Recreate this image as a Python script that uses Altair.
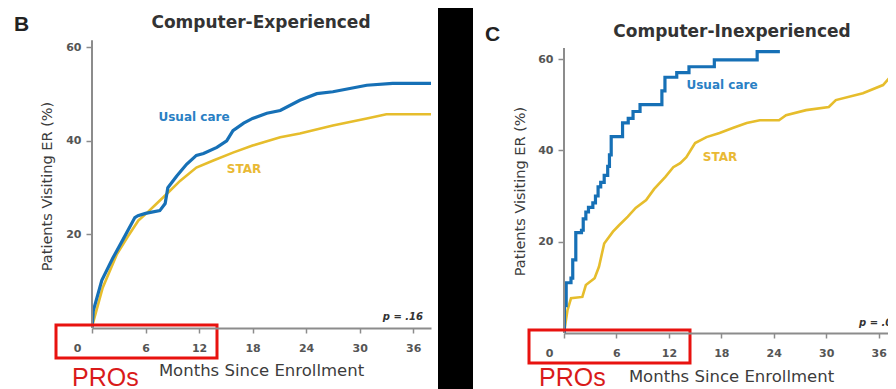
import altair as alt
import pandas as pd

# ---------------- data ----------------
MONTH_TICKS = [0, 6, 12, 18, 24, 30, 36]
PCT_TICKS = [20, 40, 60]

# Panel B: Computer-Experienced
b_usual_month = [0, 0.15, 1.1, 2.35, 3.5, 4.8, 5.15, 6.0, 7.6, 8.2, 8.5, 9.5, 10.6, 11.7, 12.5,
                 14.0, 15.1, 15.8, 17.0, 18.0, 19.6, 21.1, 23.3, 25.2, 27.0, 28.9, 30.8, 33.7, 38.0]
b_usual_pct = [0, 3.7, 10.2, 15.0, 19.0, 23.6, 24.0, 24.5, 25.1, 26.6, 30.0, 32.5, 35.0, 36.9, 37.3,
               38.6, 40.0, 42.2, 43.8, 44.8, 45.9, 46.5, 48.7, 50.1, 50.5, 51.2, 51.9, 52.3, 52.3]
b_star_month = [0, 0.1, 1.2, 2.8, 4.0, 5.2, 6.1, 7.2, 8.4, 9.9, 11.7, 13.6, 15.8, 18.0, 21.1,
                23.3, 27.0, 30.8, 33.0, 38.0]
b_star_pct = [0, 1.0, 8.6, 15.8, 19.5, 23.0, 24.5, 26.5, 28.7, 31.5, 34.3, 35.8, 37.5, 39.0, 40.8,
              41.6, 43.3, 44.8, 45.7, 45.7]

# Panel C: Computer-Inexperienced
c_usual_month = [0, 0.05, 0.25, 0.8, 1.0, 1.35, 2.0, 2.2, 2.5, 2.8, 3.3, 3.6, 3.9, 4.2, 4.6, 5.0,
                 5.2, 5.4, 6.7, 7.35, 7.9, 8.7, 11.2, 11.55, 12.9, 14.3, 17.2, 22.1, 24.7]
c_usual_pct = [0, 6.0, 11.0, 12.0, 16.0, 22.0, 22.5, 25.0, 26.5, 27.5, 28.5, 30.0, 32.0, 33.0, 34.5, 36.5,
               39.0, 43.0, 46.0, 47.0, 48.5, 50.0, 53.0, 56.0, 57.0, 58.3, 59.8, 61.6, 61.6]
c_star_month = [0, 0.4, 0.8, 2.1, 2.5, 3.5, 4.0, 4.6, 5.6, 6.3, 7.3, 8.2, 9.4, 10.3, 11.6, 12.5, 13.3,
                14.0, 15.0, 16.3, 17.8, 19.3, 20.9, 22.4, 24.6, 25.4, 27.7, 30.3, 31.1, 34.2, 36.5, 37.2, 38.0]
c_star_pct = [0, 5.0, 7.6, 7.9, 10.5, 12.0, 14.5, 19.6, 22.2, 23.6, 25.5, 27.4, 29.1, 31.5, 34.2, 36.3, 37.2,
              38.5, 41.6, 42.9, 43.8, 44.9, 46.0, 46.6, 46.6, 47.7, 48.8, 49.5, 51.0, 52.5, 54.3, 55.8, 56.5]

# ---------------- styles ----------------
BLUE = "#1670b6"
GOLD = "#e6bd2c"
BLUE_TXT = "#2a80c4"
GOLD_TXT = "#e9b935"
RED = "#e8120f"
AXIS = "#8c8c8c"
INK = "#3c3c3c"
SANS = "DejaVu Sans"
ARIAL = "Liberation Sans"


def one(text):
    return pd.DataFrame({"t": [text]})


def text_layer(text, x, y, size, color, weight="normal", align="left", style="normal",
               font=SANS, baseline="alphabetic", clip=False):
    kw = dict(font=font, fontSize=size, fontWeight=weight, fontStyle=style, color=color,
              align=align, baseline=baseline)
    if clip:
        kw.update(clip=True)
    return alt.Chart(one(text)).mark_text(**kw).encode(
        x=alt.value(x), y=alt.value(y), text="t:N")


def panel(p):
    w, h = p["width"], p["height"]
    xaxis = alt.Axis(
        values=MONTH_TICKS, title="Months Since Enrollment", grid=False,
        domainColor=AXIS, domainWidth=2, tickColor=AXIS, tickWidth=1.5, tickSize=5,
        labelFont=SANS, labelFontSize=11, labelFontWeight="bold", labelColor="#555555",
        labelPadding=9, labelFlush=False, labelOverlap=False,
        labelOffset={"condition": {"test": "datum.value === 0", "value": -15}, "value": 0},
        titleFont=SANS, titleFontSize=16.5, titleFontWeight="normal", titleColor=INK,
        titleX=p["xt_x"], titleY=p["xt_y"], titleBaseline="alphabetic", titleAlign="center",
        zindex=1,
    )
    yaxis = alt.Axis(
        values=PCT_TICKS, title="Patients Visiting ER (%)", grid=False, domain=False,
        tickColor=AXIS, tickWidth=1.5, tickSize=6,
        labelFont=SANS, labelFontSize=11, labelFontWeight="bold", labelColor="#555555",
        labelPadding=5,
        titleFont=SANS, titleFontSize=14.5, titleFontWeight="normal", titleColor=INK,
        titleX=p["yt_x"], titleY=p["yt_y"], titleAngle=270, titleBaseline="middle", titleAlign="center",
        zindex=1,
    )
    xs = alt.Scale(domain=[0, p["xmax"]], nice=False, zero=False)
    ys = alt.Scale(domain=[0, p["ytop"]], nice=False)

    bg = alt.Chart(one("bg")).mark_rect(color="white").encode(
        x=alt.value(p["bg"][0]), x2=alt.value(p["bg"][1]),
        y=alt.value(p["bg"][2]), y2=alt.value(p["bg"][3]))

    # y-axis line, drawn only up to the end of the printed axis
    yline = alt.Chart(one("axis")).mark_rule(color=AXIS, strokeWidth=2).encode(
        x=alt.value(0), y=alt.datum(0, scale=ys), y2=alt.datum(p["yaxis_top"]))

    usual = alt.Chart(pd.DataFrame({"month": p["um"], "pct": p["uv"]})).mark_line(
        color=BLUE, strokeWidth=3.2, interpolate=p["uinterp"], strokeJoin="miter", clip=True
    ).encode(x=alt.X("month:Q", scale=xs, axis=xaxis), y=alt.Y("pct:Q", scale=ys, axis=yaxis))
    star = alt.Chart(pd.DataFrame({"month": p["sm"], "pct": p["sv"]})).mark_line(
        color=GOLD, strokeWidth=2.6, interpolate="linear", clip=True
    ).encode(x=alt.X("month:Q", scale=xs, axis=xaxis), y=alt.Y("pct:Q", scale=ys, axis=yaxis))

    box = alt.Chart(one("box")).mark_rect(fill="transparent", stroke=RED, strokeWidth=3).encode(
        x=alt.value(p["box"][0]), x2=alt.value(p["box"][1]),
        y=alt.value(p["box"][2]), y2=alt.value(p["box"][3]))

    layers = [
        bg, star, usual, yline, box,
        text_layer(p["letter"], p["letter_xy"][0], p["letter_xy"][1], 21, "#222222", "bold", font=ARIAL),
        text_layer(p["title"], p["title_xy"][0], p["title_xy"][1], 17, "#333333", "bold", "center"),
        text_layer("Usual care", p["ulab"][0], p["ulab"][1], 12, BLUE_TXT, "bold", "center", baseline="middle"),
        text_layer("STAR", p["slab"][0], p["slab"][1], 12, GOLD_TXT, "bold", "center", baseline="middle"),
        text_layer(p["pval"], p["p_xy"][0], p["p_xy"][1], 10, "#333333", "bold", p["p_align"], "italic",
                   clip=True),
        text_layer("PROs", p["pros"][0], p["pros"][1], 25, "#d91a1a", font=ARIAL),
    ]
    return alt.layer(*layers).properties(width=w, height=h)


# plot area of both panels starts 38 px below the page top
B = dict(
    width=339, height=290, xmax=38, ytop=62, yaxis_top=61.5,
    um=b_usual_month, uv=b_usual_pct, sm=b_star_month, sv=b_star_pct, uinterp="linear",
    bg=(-84, 346, -30, 351),
    xt_x=169, xt_y=47, yt_x=-45, yt_y=148,
    box=(-36, 125, 287, 320),
    letter="B", letter_xy=(-78, -7),
    title="Computer-Experienced", title_xy=(169, -10),
    ulab=(102, 79), slab=(152, 131),
    pval="p = .16", p_xy=(331, 282), p_align="right",
    pros=(-20, 348),
)

C = dict(
    width=324, height=295, xmax=37.07, ytop=64.6, yaxis_top=62.4,
    um=c_usual_month, uv=c_usual_pct, sm=c_star_month, sv=c_star_pct, uinterp="step-after",
    bg=(-91, 324, -30, 351),
    xt_x=167, xt_y=48, yt_x=-44, yt_y=153,
    box=(-35, 126, 292, 325),
    letter="C", letter_xy=(-79, 3),
    title="Computer-Inexperienced", title_xy=(168, -1),
    ulab=(158, 47), slab=(156, 119),
    pval="p = .02", p_xy=(295, 288), p_align="left",
    pros=(-25, 348),
)

chart = alt.hconcat(panel(B), panel(C), spacing=35).properties(
    background="black", padding=0
).configure_view(strokeWidth=0)

chart.save("out.html", embed_options={"renderer": "svg", "actions": False})
